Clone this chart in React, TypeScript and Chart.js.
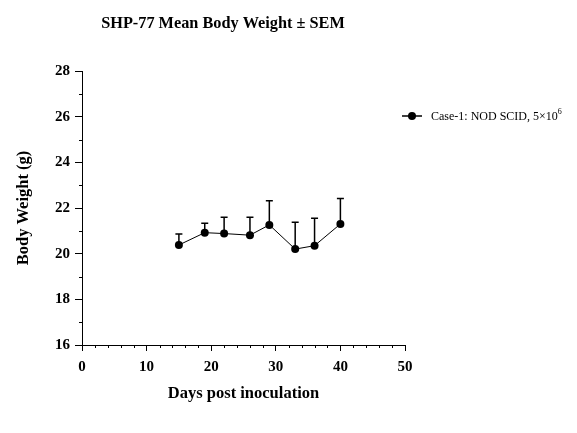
import React, { useEffect, useRef } from "react";
import { Chart, registerables } from "chart.js";
Chart.register(...registerables);

const days = [15, 19, 22, 26, 29, 33, 36, 40];
const meanWeight = [20.38, 20.92, 20.88, 20.81, 21.26, 20.2, 20.35, 21.3];
const semWeight = [0.48, 0.41, 0.71, 0.78, 1.06, 1.18, 1.2, 1.12];
const xRange = [0, 50];
const yRange = [16, 28];
const xMajorStep = 10;
const xMinorStep = 2;
const yMajorStep = 2;
const yMinorStep = 1;
const chartTitle = "SHP-77 Mean Body Weight ± SEM";
const xTitle = "Days post inoculation";
const yTitle = "Body Weight (g)";
const seriesLabel = "Case-1: NOD SCID, 5×10";
const seriesSup = "6";

const FONT = "'Liberation Serif', 'Times New Roman', serif";

const customPlugin = {
  id: "custom",
  beforeDatasetsDraw(chart: any) {
    const ctx = chart.ctx;
    const xs = chart.scales.x;
    const ys = chart.scales.y;
    ctx.save();
    ctx.strokeStyle = "#000";
    ctx.lineWidth = 1.5;
    for (let i = 0; i < days.length; i++) {
      const x = xs.getPixelForValue(days[i]);
      const y1 = ys.getPixelForValue(meanWeight[i]);
      const y2 = ys.getPixelForValue(meanWeight[i] + semWeight[i]);
      ctx.beginPath();
      ctx.moveTo(x, y1);
      ctx.lineTo(x, y2);
      ctx.moveTo(x - 3.5, y2);
      ctx.lineTo(x + 3.5, y2);
      ctx.stroke();
    }
    ctx.restore();
  },
  afterDraw(chart: any) {
    const ctx = chart.ctx;
    const xs = chart.scales.x;
    const ys = chart.scales.y;
    const area = chart.chartArea;
    ctx.save();
    // minor ticks
    ctx.strokeStyle = "#000";
    ctx.lineWidth = 1;
    ctx.beginPath();
    for (let v = xRange[0]; v <= xRange[1]; v += xMinorStep) {
      if (v % xMajorStep === 0) continue;
      const x = Math.round(xs.getPixelForValue(v)) + 0.5;
      ctx.moveTo(x, area.bottom);
      ctx.lineTo(x, area.bottom + 3);
    }
    for (let v = yRange[0]; v <= yRange[1]; v += yMinorStep) {
      if (v % yMajorStep === 0) continue;
      const y = Math.round(ys.getPixelForValue(v)) + 0.5;
      ctx.moveTo(area.left, y);
      ctx.lineTo(area.left - 3, y);
    }
    ctx.stroke();

    // title
    ctx.fillStyle = "#000";
    ctx.font = `bold 16.3px ${FONT}`;
    ctx.textAlign = "center";
    ctx.textBaseline = "alphabetic";
    ctx.fillText(chartTitle, area.left + 141, 19.5);

    // legend
    const ly = area.top + 45;
    const lx = area.right;
    ctx.lineWidth = 1.5;
    ctx.beginPath();
    ctx.moveTo(lx - 3, ly);
    ctx.lineTo(lx + 17, ly);
    ctx.stroke();
    ctx.beginPath();
    ctx.arc(lx + 7, ly, 4, 0, Math.PI * 2);
    ctx.fill();
    ctx.font = `12px ${FONT}`;
    ctx.textAlign = "left";
    ctx.textBaseline = "middle";
    ctx.fillText(seriesLabel, lx + 26, ly + 1);
    const w = ctx.measureText(seriesLabel).width;
    ctx.font = `8px ${FONT}`;
    ctx.fillText(seriesSup, lx + 26 + w, ly - 4);
    ctx.restore();
  },
};

export default function App() {
  const ref = useRef<HTMLCanvasElement | null>(null);
  useEffect(() => {
    if (!ref.current) return;
    const chart = new Chart(ref.current, {
      type: "line",
      data: {
        datasets: [
          {
            label: seriesLabel + seriesSup,
            data: days.map((d, i) => ({ x: d, y: meanWeight[i] })),
            borderColor: "#000",
            backgroundColor: "#000",
            borderWidth: 1,
            pointRadius: 4,
            pointBorderWidth: 0,
            pointHoverRadius: 4,
            pointBackgroundColor: "#000",
            pointBorderColor: "#000",
            tension: 0,
          },
        ],
      },
      options: {
        animation: false,
        responsive: true,
        maintainAspectRatio: false,
        layout: { padding: { top: 63, right: 164, left: 0, bottom: 0 } },
        plugins: {
          legend: { display: false },
          title: { display: false },
          tooltip: { enabled: false },
        },
        scales: {
          x: {
            type: "linear",
            min: xRange[0],
            max: xRange[1],
            afterFit: (s: any) => {
              s.height = 80;
            },
            ticks: {
              stepSize: xMajorStep,
              color: "#000",
              padding: 7.5,
              font: { family: FONT, size: 15, weight: "bold" },
              maxRotation: 0,
            },
            grid: {
              drawOnChartArea: false,
              tickLength: 6,
              tickColor: "#000",
            },
            border: { color: "#000", width: 1 },
            title: {
              display: true,
              text: xTitle,
              color: "#000",
              font: { family: FONT, size: 16.5, weight: "bold" },
              padding: { top: 0, bottom: 21.5 },
            },
          },
          y: {
            type: "linear",
            min: yRange[0],
            max: yRange[1],
            afterFit: (s: any) => {
              s.width = 74;
            },
            ticks: {
              stepSize: yMajorStep,
              color: "#000",
              padding: 5,
              font: { family: FONT, size: 15, weight: "bold" },
            },
            grid: {
              drawOnChartArea: false,
              tickLength: 7,
              tickColor: "#000",
            },
            border: { color: "#000", width: 1 },
            title: {
              display: true,
              text: yTitle,
              color: "#000",
              font: { family: FONT, size: 16.5, weight: "bold" },
              padding: { top: 6, bottom: 0 },
            },
          },
        },
      },
      plugins: [customPlugin],
    });
    return () => chart.destroy();
  }, []);
  return (
    <div style={{ width: 561, height: 417, position: "relative" }}>
      <canvas ref={ref} />
    </div>
  );
}
